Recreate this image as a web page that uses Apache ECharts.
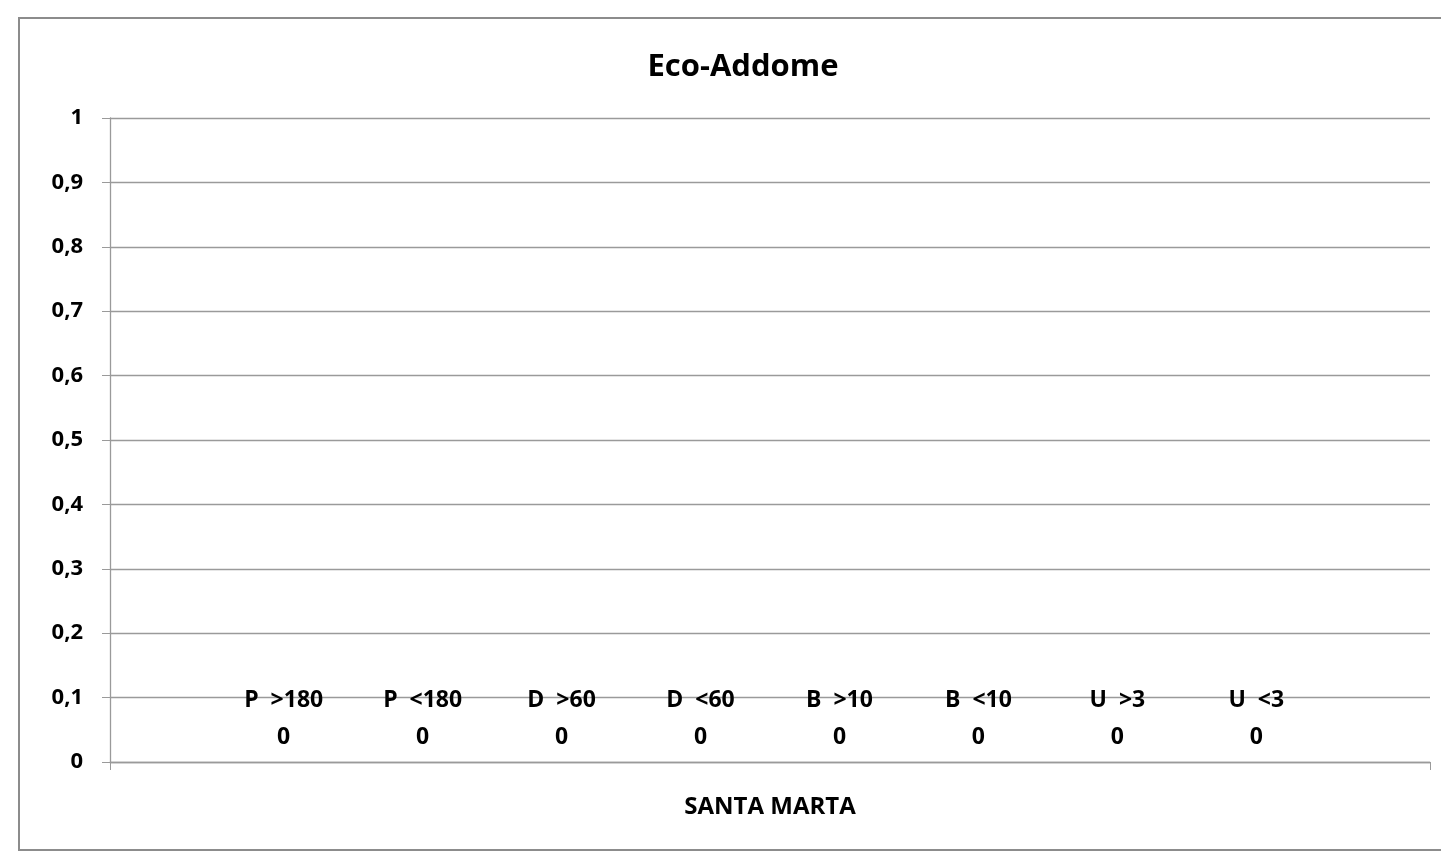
<!DOCTYPE html>
<html>
<head>
<meta charset="utf-8">
<script src="https://cdn.jsdelivr.net/npm/echarts@6/dist/echarts.min.js"></script>
<style>
html,body{margin:0;padding:0;background:#fff;}
#c{width:1441px;height:851px;}
</style>
</head>
<body>
<div id="c"></div>
<script>
const chartTitle = 'Eco-Addome';
const categories = ['SANTA MARTA'];
const seriesNames = ['P  >180', 'P  <180', 'D  >60', 'D  <60', 'B  >10', 'B  <10', 'U  >3', 'U  <3'];
const seriesValues = [[0], [0], [0], [0], [0], [0], [0], [0]];
const yTicks = [0, 0.1, 0.2, 0.3, 0.4, 0.5, 0.6, 0.7, 0.8, 0.9, 1];

const FONT = '"Open Sans", sans-serif';
const chart = echarts.init(document.getElementById('c'));
chart.setOption({
  animation: false,
  backgroundColor: '#fff',
  graphic: [{
    type: 'rect',
    shape: { x: 19, y: 18, width: 1440, height: 832 },
    style: { fill: 'none', stroke: '#8c8c8c', lineWidth: 2 },
    z: -1
  }],
  title: {
    text: chartTitle,
    left: 738, top: 47,
    textAlign: 'center',
    textStyle: { fontFamily: FONT, fontWeight: 'bold', fontSize: 31, color: '#000' }
  },
  grid: { left: 110, right: 11, top: 118, bottom: 89, containLabel: false },
  xAxis: {
    type: 'category',
    data: categories,
    name: categories[0],
    nameLocation: 'middle',
    nameGap: 33,
    nameTextStyle: { fontFamily: FONT, fontWeight: 'bold', fontSize: 24, color: '#000' },
    axisLine: { lineStyle: { color: '#9a9a9a', width: 1.3 } },
    axisTick: { show: true, alignWithLabel: false, length: 8, lineStyle: { color: '#9a9a9a' } },
    axisLabel: { show: false },
    splitLine: { show: false }
  },
  yAxis: {
    type: 'value',
    min: 0, max: 1, interval: 0.1,
    axisLine: { show: true, lineStyle: { color: '#9a9a9a', width: 1.3 } },
    axisTick: { show: true, length: 8, lineStyle: { color: '#9a9a9a' } },
    splitLine: { lineStyle: { color: '#9a9a9a', width: 1.3 } },
    axisLabel: {
      margin: 27,
      fontFamily: FONT, fontWeight: 'bold', fontSize: 22, color: '#000',
      formatter: function (v) {
        const t = yTicks.find(x => Math.abs(x - v) < 1e-9);
        return String(t === undefined ? v : t).replace('.', ',');
      }
    }
  },
  series: seriesNames.map((n, i) => ({
    type: 'bar',
    name: n,
    data: seriesValues[i],
    barGap: '0%',
    barCategoryGap: '15.79%',
    itemStyle: { color: '#4f81bd' },
    label: {
      show: true,
      position: 'top',
      distance: 6,
      formatter: '{a}\n{c}',
      fontFamily: FONT, fontWeight: 'bold', fontSize: 23, color: '#000',
      lineHeight: 37, align: 'center'
    }
  }))
});
</script>
</body>
</html>
